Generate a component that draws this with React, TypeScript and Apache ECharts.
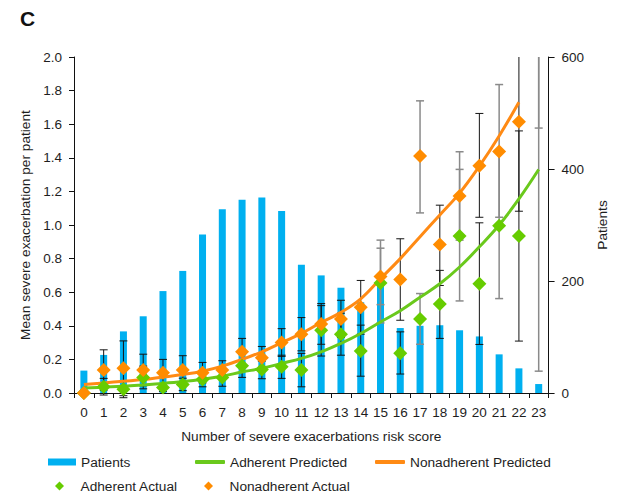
import React, { useEffect, useRef } from 'react';
import * as echarts from 'echarts';

// Risk score categories (x axis)
const riskScores = ['0', '1', '2', '3', '4', '5', '6', '7', '8', '9', '10', '11', '12', '13', '14', '15', '16', '17', '18', '19', '20', '21', '22', '23'];

// Number of patients per risk score (right axis)
const patients = [40, 68, 110, 137, 182, 218, 283, 328, 345, 349, 325, 229, 210, 188, 162, 200, 116, 120, 121, 112, 101, 69, 44, 16];

// Model-predicted mean severe exacerbations
const adherentPredicted = [0.03, 0.035, 0.04, 0.048, 0.057, 0.068, 0.082, 0.1, 0.125, 0.147, 0.176, 0.206, 0.245, 0.295, 0.354, 0.423, 0.49, 0.57, 0.65, 0.75, 0.87, 1.0, 1.155, 1.33];
const nonadherentPredicted = [0.05, 0.06, 0.07, 0.08, 0.095, 0.11, 0.13, 0.16, 0.2, 0.245, 0.3, 0.355, 0.42, 0.48, 0.56, 0.68, 0.8, 0.93, 1.06, 1.19, 1.35, 1.53, 1.73, null];

// Observed means
const adherentActual = [0.0, 0.037, 0.022, 0.093, 0.032, 0.051, 0.081, 0.093, 0.162, 0.14, 0.156, 0.137, 0.374, 0.35, 0.25, 0.655, 0.236, 0.44, 0.53, 0.934, 0.651, 0.995, 0.934, null];
const nonadherentActual = [0.0, 0.137, 0.147, 0.137, 0.12, 0.137, 0.12, 0.137, 0.245, 0.21, 0.3, 0.35, 0.41, 0.44, 0.51, 0.694, 0.676, 1.41, 0.884, 1.173, 1.353, 1.438, 1.614, null];

// Confidence limits of the observed means (upper limits beyond the axis are cut at 2.0)
const adherentLow = [null, -0.012, -0.028, 0.025, 0.01, 0.014, 0.037, 0.04, 0.093, 0.085, 0.087, 0.037, 0.22, 0.225, 0.1, 0.417, 0.113, 0.29, 0.325, 0.548, 0.289, 0.562, 0.309, 0.13];
const adherentHigh = [null, 0.087, 0.072, 0.16, 0.055, 0.088, 0.125, 0.146, 0.231, 0.19, 0.225, 0.236, 0.52, 0.475, 0.404, 0.91, 0.364, 0.592, 0.73, 1.331, 1.013, 1.43, 1.56, 2.0];
const nonadherentLow = [null, 0.017, -0.016, 0.043, 0.04, 0.052, 0.06, 0.082, 0.165, 0.145, 0.218, 0.251, 0.29, 0.33, 0.35, 0.526, 0.433, 1.072, 0.64, 0.91, 1.046, 1.046, 1.082, 1.577];
const nonadherentHigh = [null, 0.257, 0.31, 0.231, 0.2, 0.222, 0.182, 0.192, 0.325, 0.277, 0.383, 0.449, 0.532, 0.552, 0.67, 0.862, 0.918, 1.739, 1.118, 1.436, 1.664, 1.836, 2.0, 2.0];

// Axis tick labels
const leftTicks = ['0.0', '0.2', '0.4', '0.6', '0.8', '1.0', '1.2', '1.4', '1.6', '1.8', '2.0'];
const rightTicks = [0, 200, 400, 600];

const LEFT_MAX = Number(leftTicks[leftTicks.length - 1]);
const RIGHT_MAX = rightTicks[rightTicks.length - 1];

const FONT = "'Liberation Sans', Arial, Helvetica, sans-serif";
const TEXT = '#1e1e1e';
const BLUE = '#00b0f0';
const GREEN = '#66cc00';
const GREEN_LINE = '#6ac91c';
const ORANGE = '#ff8c00';
const ORANGE_LINE = '#ff8a14';
const DIAMOND = 'path://M5,0L10,5L5,10L0,5Z';

function rangeData(low: (number | null)[], high: (number | null)[]) {
  const out: number[][] = [];
  low.forEach((lo, i) => {
    const hi = high[i];
    if (lo != null && hi != null) out.push([i, lo, hi]);
  });
  return out;
}

// Vertical error bar with horizontal caps; no cap where the bar runs off the top
function renderErrorBar(params: any, api: any) {
  const idx = api.value(0);
  const lo = api.value(1);
  const hi = api.value(2);
  const cx = api.coord([idx, 0])[0];
  const yLo = api.coord([idx, lo])[1];
  const yHi = api.coord([idx, Math.min(hi, LEFT_MAX)])[1];
  const light = idx % 2 === 1 && idx >= 15;
  const style = { stroke: light ? '#8a8a8a' : '#141414', lineWidth: light ? 1.5 : 1 };
  const half = 4;
  const children: any[] = [
    { type: 'line', shape: { x1: cx, y1: yLo, x2: cx, y2: yHi }, style },
    { type: 'line', shape: { x1: cx - half, y1: yLo, x2: cx + half, y2: yLo }, style },
  ];
  if (hi < LEFT_MAX) {
    children.push({ type: 'line', shape: { x1: cx - half, y1: yHi, x2: cx + half, y2: yHi }, style });
  }
  return { type: 'group', children };
}

export default function App() {
  const ref = useRef<HTMLDivElement>(null);

  useEffect(() => {
    if (!ref.current) return;
    const chart = echarts.init(ref.current, undefined, { renderer: 'svg' });

    const legendText = { fontFamily: FONT, fontSize: 13.7, color: TEXT };
    const legendBase = {
      orient: 'horizontal',
      padding: 0,
      selectedMode: false,
      textStyle: legendText,
    };

    chart.setOption({
      animation: false,
      backgroundColor: '#ffffff',
      textStyle: { fontFamily: FONT },
      title: {
        text: 'C',
        left: 20,
        top: 8,
        padding: 0,
        textStyle: { fontFamily: FONT, fontSize: 21, fontWeight: 'bold', color: '#111' },
      },
      grid: { left: 74, right: 60, top: 57, bottom: 101, containLabel: false },
      legend: [
        { ...legendBase, left: 48, top: 455, itemWidth: 28, itemHeight: 7, data: [{ name: 'Patients', icon: 'rect' }] },
        { ...legendBase, left: 195, top: 455, itemWidth: 30, itemHeight: 4, data: [{ name: 'Adherent Predicted', icon: 'roundRect' }] },
        { ...legendBase, left: 375, top: 455, itemWidth: 30, itemHeight: 4, data: [{ name: 'Nonadherent Predicted', icon: 'roundRect' }] },
        { ...legendBase, left: 55, top: 479, itemWidth: 32, itemHeight: 9, data: [{ name: 'Adherent Actual', icon: DIAMOND }] },
        { ...legendBase, left: 204, top: 479, itemWidth: 32, itemHeight: 9, data: [{ name: 'Nonadherent Actual', icon: DIAMOND }] },
      ],
      xAxis: {
        type: 'category',
        data: riskScores,
        boundaryGap: true,
        name: 'Number of severe exacerbations risk score',
        nameLocation: 'middle',
        nameGap: 36,
        nameTextStyle: { fontFamily: FONT, fontSize: 13.7, color: TEXT },
        axisLine: { show: true, lineStyle: { color: '#111', width: 1 } },
        axisTick: { show: true, alignWithLabel: false, length: 5, inside: false, lineStyle: { color: '#111' } },
        axisLabel: { interval: 0, margin: 12, fontFamily: FONT, fontSize: 13.5, color: TEXT },
        splitLine: { show: false },
      },
      yAxis: [
        {
          type: 'value',
          min: 0,
          max: LEFT_MAX,
          interval: 0.2,
          position: 'left',
          name: 'Mean severe exacerbation per patient',
          nameLocation: 'middle',
          nameRotate: 90,
          nameGap: 40,
          nameTextStyle: { fontFamily: FONT, fontSize: 13.7, color: TEXT },
          axisLine: { show: true, lineStyle: { color: '#111', width: 1 } },
          axisTick: { show: true, length: 5, inside: false, lineStyle: { color: '#111' } },
          axisLabel: {
            margin: 12,
            fontFamily: FONT,
            fontSize: 13.5,
            color: TEXT,
            formatter: (v: number) => {
              const i = Math.round(v / 0.2);
              return leftTicks[i] ?? v.toFixed(1);
            },
          },
          splitLine: { show: false },
        },
        {
          type: 'value',
          min: 0,
          max: RIGHT_MAX,
          interval: 200,
          position: 'right',
          name: 'Patients',
          nameLocation: 'middle',
          nameRotate: 90,
          nameGap: 44,
          nameTextStyle: { fontFamily: FONT, fontSize: 13.7, color: TEXT },
          axisLine: { show: true, lineStyle: { color: '#111', width: 1 } },
          axisTick: { show: true, length: 6, inside: false, lineStyle: { color: '#111' } },
          axisLabel: { margin: 13, fontFamily: FONT, fontSize: 13.5, color: TEXT },
          splitLine: { show: false },
        },
      ],
      series: [
        {
          name: 'Patients',
          type: 'bar',
          yAxisIndex: 1,
          data: patients,
          barWidth: 7,
          itemStyle: { color: BLUE },
          z: 1,
        },
        {
          name: 'Adherent range',
          type: 'custom',
          yAxisIndex: 0,
          renderItem: renderErrorBar,
          encode: { x: 0, y: [1, 2] },
          data: rangeData(adherentLow, adherentHigh),
          z: 2,
          silent: true,
        },
        {
          name: 'Nonadherent range',
          type: 'custom',
          yAxisIndex: 0,
          renderItem: renderErrorBar,
          encode: { x: 0, y: [1, 2] },
          data: rangeData(nonadherentLow, nonadherentHigh),
          z: 2,
          silent: true,
        },
        {
          name: 'Adherent Predicted',
          type: 'line',
          yAxisIndex: 0,
          data: adherentPredicted,
          smooth: 0.4,
          symbol: 'none',
          showSymbol: false,
          lineStyle: { color: GREEN_LINE, width: 3 },
          itemStyle: { color: GREEN_LINE },
          z: 3,
        },
        {
          name: 'Nonadherent Predicted',
          type: 'line',
          yAxisIndex: 0,
          data: nonadherentPredicted,
          smooth: 0.4,
          symbol: 'none',
          showSymbol: false,
          lineStyle: { color: ORANGE_LINE, width: 3 },
          itemStyle: { color: ORANGE_LINE },
          z: 3,
        },
        {
          name: 'Adherent Actual',
          type: 'scatter',
          yAxisIndex: 0,
          data: adherentActual,
          symbol: 'diamond',
          symbolSize: 14,
          itemStyle: { color: GREEN, opacity: 1 },
          z: 4,
        },
        {
          name: 'Nonadherent Actual',
          type: 'scatter',
          yAxisIndex: 0,
          data: nonadherentActual,
          symbol: 'diamond',
          symbolSize: 14,
          itemStyle: { color: ORANGE, opacity: 1 },
          z: 5,
        },
      ],
    });

    return () => chart.dispose();
  }, []);

  return (
    <div
      ref={ref}
      style={{ position: 'fixed', left: 0, top: 0, width: 617, height: 494, background: '#fff' }}
    />
  );
}
